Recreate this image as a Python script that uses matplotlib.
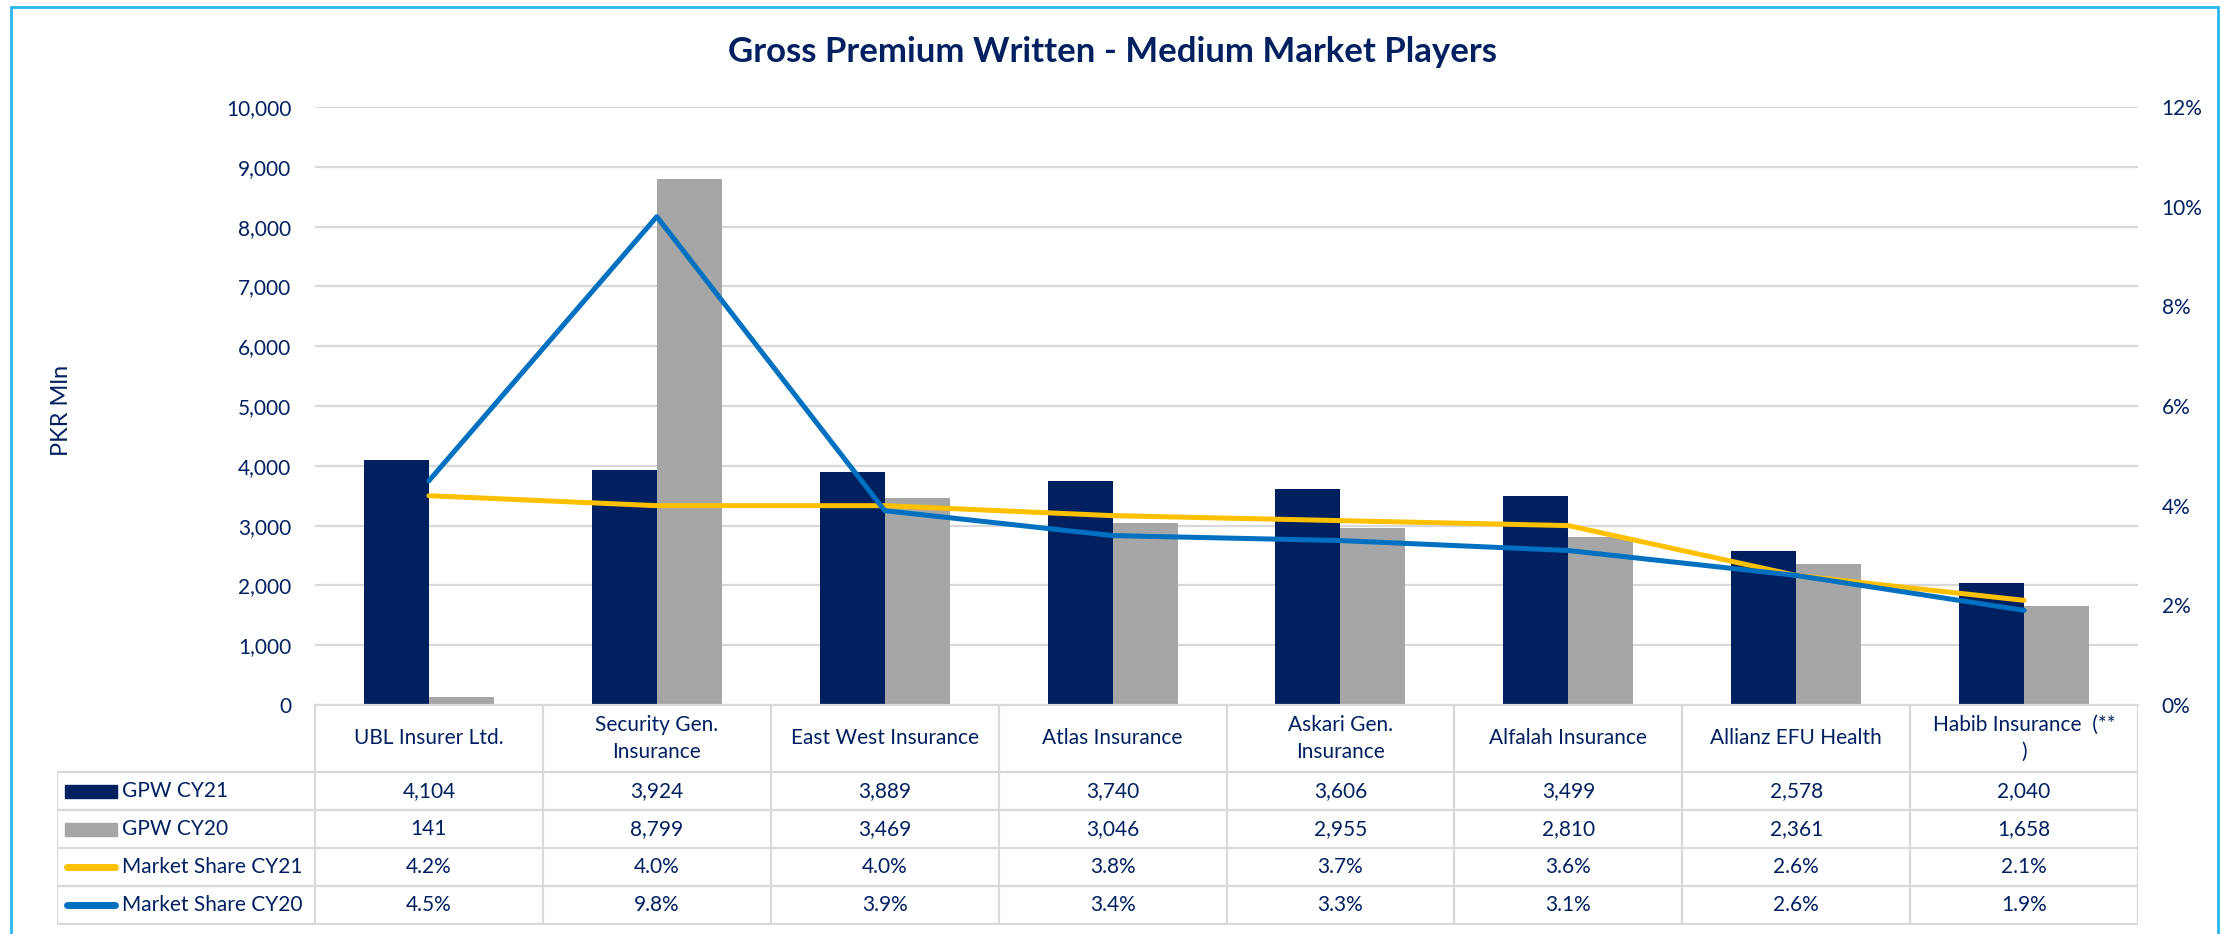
import matplotlib
matplotlib.use('Agg')
import matplotlib.pyplot as plt
import matplotlib.patches as patches
import numpy as np

plt.rcParams['font.family'] = ['Lato', 'DejaVu Sans']

companies = ['UBL Insurer Ltd.', 'Security Gen.\nInsurance', 'East West Insurance', 'Atlas Insurance',
             'Askari Gen.\nInsurance', 'Alfalah Insurance', 'Allianz EFU Health', 'Habib Insurance  (**\n)']
gpw_cy21 = [4104, 3924, 3889, 3740, 3606, 3499, 2578, 2040]
gpw_cy20 = [141, 8799, 3469, 3046, 2955, 2810, 2361, 1658]
share_cy21 = [4.2, 4.0, 4.0, 3.8, 3.7, 3.6, 2.6, 2.1]
share_cy20 = [4.5, 9.8, 3.9, 3.4, 3.3, 3.1, 2.6, 1.9]
series_names = ['GPW CY21', 'GPW CY20', 'Market Share CY21', 'Market Share CY20']

navy = '#002060'
grey = '#A6A6A6'
yellow = '#FFC000'
blue = '#0070C0'
gridc = '#D9D9D9'
textc = '#002060'

W, H = 2221, 934
fig = plt.figure(figsize=(W / 100, H / 100), dpi=100)

# pixel layout of plot area
left, right, top, bottom = 315, 2138, 107, 705
ax = fig.add_axes([left / W, 1 - bottom / H, (right - left) / W, (bottom - top) / H])
x = np.arange(len(companies))
bw = 0.285
ax.bar(x - bw / 2, gpw_cy21, bw, color=navy, zorder=2)
ax.bar(x + bw / 2, gpw_cy20, bw, color=grey, zorder=2)
ax.set_xlim(-0.5, len(companies) - 0.5)
ax.set_ylim(0, 10000)
ax.set_yticks(np.arange(0, 10001, 1000))
ax.set_yticklabels(['{:,}'.format(v) for v in range(0, 10001, 1000)])
ax.yaxis.grid(True, color=gridc, linewidth=1.6, zorder=0)
ax.set_xticks([])
for s in ['top', 'right', 'left']:
    ax.spines[s].set_visible(False)
ax.spines['bottom'].set_color(gridc)
ax.spines['bottom'].set_linewidth(1.6)
ax.tick_params(axis='y', length=0, pad=17, labelsize=15, labelcolor=textc)
ax.set_axisbelow(True)

ax2 = ax.twinx()
ax2.plot(x, share_cy21, color=yellow, linewidth=3.6, solid_capstyle='round', zorder=3)
ax2.plot(x, share_cy20, color=blue, linewidth=3.6, solid_capstyle='round', zorder=4)
ax2.set_ylim(0, 12)
ax2.set_yticks(np.arange(0, 13, 2))
ax2.set_yticklabels([str(v) + '%' for v in range(0, 13, 2)])
ax2.tick_params(axis='y', length=0, pad=17, labelsize=15, labelcolor=textc)
for s in ax2.spines.values():
    s.set_visible(False)

fig.text(1113 / W, 1 - 52 / H, 'Gross Premium Written - Medium Market Players', ha='center', va='center',
         fontsize=25, fontweight='bold', color=textc)
fig.text(62 / W, 1 - 410 / H, 'PKR Mln', rotation=90, ha='center', va='center', fontsize=17, color=textc)

# data table under the plot
tleft, tbottom = 57, 925
unit = (right - left) / len(companies)
tax = fig.add_axes([tleft / W, 1 - tbottom / H, (right - tleft) / W, (tbottom - bottom) / H])
x0 = -0.5 - (left - tleft) / unit
tax.set_xlim(x0, len(companies) - 0.5)
tax.set_ylim(tbottom - bottom, 0)
tax.axis('off')

rows = [67, 105, 143, 181, 219]
lw = 1.6
# header verticals
for i in range(len(companies) + 1):
    tax.plot([i - 0.5, i - 0.5], [0, rows[-1]], color=gridc, linewidth=lw)
tax.plot([x0, x0], [rows[0], rows[-1]], color=gridc, linewidth=lw)
for r in rows:
    tax.plot([x0, len(companies) - 0.5], [r, r], color=gridc, linewidth=lw)

for i, name in enumerate(companies):
    tax.text(i, rows[0] / 2, name, ha='center', va='center', fontsize=15, color=textc, linespacing=1.45)

values = [['{:,}'.format(v) for v in gpw_cy21], ['{:,}'.format(v) for v in gpw_cy20],
          ['{:.1f}%'.format(v) for v in share_cy21], ['{:.1f}%'.format(v) for v in share_cy20]]
for j, row in enumerate(values):
    yc = (rows[j] + rows[j + 1]) / 2
    for i, v in enumerate(row):
        tax.text(i, yc, v, ha='center', va='center', fontsize=15, color=textc)
    tax.text(x0 + (122 - tleft) / unit, yc, series_names[j], ha='left', va='center', fontsize=15, color=textc)

# legend keys
kx0 = x0 + (65 - tleft) / unit
kx1 = x0 + (117 - tleft) / unit
for j, c in enumerate([navy, grey]):
    yc = (rows[j] + rows[j + 1]) / 2
    tax.add_patch(patches.Rectangle((kx0, yc - 6.5), kx1 - kx0, 13, color=c))
for j, c in enumerate([yellow, blue]):
    yc = (rows[j + 2] + rows[j + 3]) / 2
    tax.plot([kx0 + 0.01, kx1 - 0.01], [yc, yc], color=c, linewidth=5, solid_capstyle='round')

# outer frame
fig.patches.append(patches.Rectangle((11 / W, -0.05), (2218 - 11) / W, 1.05 - 7 / H, transform=fig.transFigure,
                                     fill=False, edgecolor='#2CB5EE', linewidth=2))

fig.savefig('out.png', dpi=100)
